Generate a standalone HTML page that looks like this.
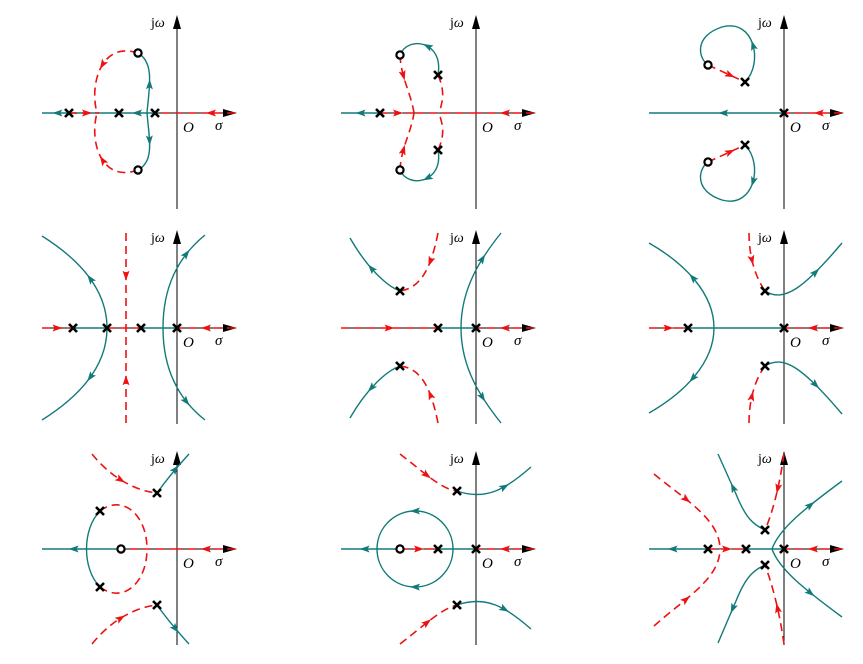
<!DOCTYPE html>
<html><head><meta charset="utf-8"><style>
html,body{margin:0;padding:0;background:#fff;}
svg{display:block;}
text{font-family:"Liberation Serif",serif;}
</style></head><body>
<svg id="fig" width="863" height="664" viewBox="0 0 863 664" xmlns="http://www.w3.org/2000/svg"></svg>
<script>
// panel origins (axis crossing) in page pixels
const panelOrigins = [[177,113],[476,113],[784,113],[177,328],[476,328],[784,328],[177,549],[476,549],[784,549]];
// poles per panel (local dx,dy)
const panelPoles = [
 [[-108,0],[-58,0],[-22,0]],
 [[-96,0],[-38,-38],[-38,37]],
 [[0,0],[-39,-31],[-39,32]],
 [[-104,0],[-70,0],[-36,0],[0,0]],
 [[-76,-37],[-76,38],[-38,0],[0,0]],
 [[-96,0],[-19,-37],[-19,38],[0,0]],
 [[-77,-38],[-77,38],[-20,-56],[-20,56]],
 [[-38,0],[0,0],[-19,-58],[-19,56]],
 [[-76,0],[-38,0],[0,0],[-19,-19],[-19,16]]
];
// zeros per panel
const panelZeros = [
 [[-39,-60],[-39,57]],
 [[-76,-58],[-76,57]],
 [[-76,-48],[-76,49]],
 [],[],[],
 [[-56,0]],
 [[-76,0]],
 []
];
// locus branches: [color t=teal r=red, path, arrow fraction]
const panelBranches = [
 [['r','M58,0 L-22,0',0.3],['t','M-22,0 L-58,0',0.5],['t','M-58,0 L-135,0',0.8],['r','M-108,0 L-78,0',0.6],
  ['t','M-30,0 C-28,-25 -22,-50 -39,-60',0.45],['t','M-30,0 C-28,25 -22,48 -39,57',0.45],
  ['r','M-39,-60 C-75,-72 -88,-30 -80,0',0.45],['r','M-39,57 C-75,70 -88,30 -80,0',0.45]],
 [['r','M58,0 L0,0',0.5],['r','M-96,0 L-60,0',0.5],['t','M-96,0 L-135,0',0.5],['r','M0,0 L-60,0',0],
  ['t','M-38,-38 C-32,-72 -68,-78 -76,-58',0.5],['t','M-38,37 C-32,70 -68,76 -76,57',0.5],
  ['r','M-76,-58 C-75,-35 -65,-20 -62,0',0.35],['r','M-76,57 C-75,35 -65,20 -62,0',0.35],
  ['r','M-38,-38 C-30,-20 -34,-10 -37,0',0],['r','M-38,37 C-30,20 -34,10 -37,0',0]],
 [['r','M58,0 L0,0',0.4],['t','M0,0 L-135,0',0.45],
  ['t','M-39,-31 C-20,-50 -30,-95 -62,-86 C-90,-77 -86,-55 -76,-48',0.3],
  ['t','M-39,32 C-20,51 -30,96 -62,87 C-90,78 -86,56 -76,49',0.3],
  ['r','M-76,-48 L-39,-31',0.6],['r','M-76,49 L-39,32',0.6]],
 [['r','M58,0 L0,0',0.5],['r','M-135,0 L-104,0',0.5],['t','M-104,0 L-70,0',0],['r','M-70,0 L-36,0',0],['t','M-36,0 L0,0',0],
  ['r','M-51,-95 L-51,0',0.45],['r','M-51,95 L-51,0',0.45],
  ['t','M-70,0 C-70,-40 -100,-70 -135,-92',0.45],['t','M-70,0 C-70,40 -100,70 -135,92',0.45],
  ['t','M-14,0 C-14,-40 0,-70 28,-93',0.75],['t','M-14,0 C-14,40 0,70 28,92',0.75]],
 [['r','M58,0 L0,0',0.5],['r','M-135,0 L-38,0',0.5],['t','M-38,0 L0,0',0],
  ['r','M-38,-95 C-45,-60 -55,-40 -76,-37',0.4],['r','M-38,95 C-45,60 -55,40 -76,38',0.4],
  ['t','M-76,-37 C-90,-42 -110,-62 -126,-90',0.5],['t','M-76,38 C-90,43 -110,62 -126,90',0.5],
  ['t','M-15,0 C-15,-40 5,-70 25,-95',0.7],['t','M-15,0 C-15,40 5,70 25,95',0.7]],
 [['r','M58,0 L0,0',0.5],['r','M-135,0 L-96,0',0.5],['t','M-96,0 L0,0',0],
  ['t','M-70,0 C-70,-35 -100,-65 -135,-85',0.5],['t','M-70,0 C-70,35 -100,65 -135,85',0.5],
  ['t','M-19,-37 C0,-25 20,-40 58,-85',0.6],['t','M-19,38 C0,26 20,41 58,86',0.6],
  ['r','M-35,-95 C-35,-70 -28,-50 -19,-37',0.45],['r','M-35,95 C-35,70 -28,50 -19,38',0.45]],
 [['r','M58,0 L0,0',0.5],['r','M0,0 L-56,0',0],['t','M-56,0 L-135,0',0.6],
  ['t','M-77,-38 C-95,-20 -95,20 -77,38',0],
  ['t','M-20,-56 C-10,-70 0,-82 12,-95',0.6],['t','M-20,56 C-10,70 0,82 12,95',0.6],
  ['r','M-85,-95 C-65,-70 -40,-58 -20,-56',0.5],['r','M-85,95 C-65,70 -40,58 -20,56',0.5],
  ['r','M-77,-38 C-55,-55 -30,-35 -30,0',0],['r','M-77,38 C-55,55 -30,35 -30,0',0]],
 [['r','M58,0 L0,0',0.5],['t','M-38,0 L0,0',0],['r','M-76,0 L-38,0',0.5],['t','M-76,0 L-135,0',0.6],
  ['t','M-23,0 A38,38 0 0 0 -99,0',0.5],['t','M-23,0 A38,38 0 0 1 -99,0',0.5],
  ['t','M-19,-58 C10,-48 30,-60 55,-82',0.6],['t','M-19,56 C10,46 30,58 55,80',0.6],
  ['r','M-76,-95 C-50,-75 -35,-60 -19,-58',0.5],['r','M-76,95 C-50,75 -35,60 -19,56',0.5]],
 [['r','M58,0 L0,0',0.5],['t','M-38,0 L0,0',0],['r','M-76,0 L-38,0',0.5],['t','M-76,0 L-135,0',0.6],
  ['t','M-19,-19 C-30,-24 -38,-30 -48,-55 L-66,-95',0.6],['t','M-19,16 C-30,21 -38,27 -48,52 L-66,94',0.6],
  ['t','M-12,0 C-5,-20 20,-40 58,-68',0.6],['t','M-12,0 C-5,20 20,40 58,68',0.6],
  ['r','M-130,-75 C-100,-50 -64,-30 -64,0',0.4],['r','M-130,77 C-100,50 -64,30 -64,0',0.4],
  ['r','M0,-95 C-5,-60 -12,-35 -19,-19',0.45],['r','M0,95 C-5,60 -12,35 -19,16',0.45]]
];
const NS='http://www.w3.org/2000/svg';
const svg=document.getElementById('fig');
const TEAL='#137a7a', RED='#ee1111';
function mk(tag,attrs,parent){const e=document.createElementNS(NS,tag);for(const k in attrs)e.setAttribute(k,attrs[k]);parent.appendChild(e);return e;}
panelOrigins.forEach((o,i)=>{
  const g=mk('g',{transform:`translate(${o[0]},${o[1]})`},svg);
  
  
  const ax=mk('g',{},g);
  
  
  mk('line',{x1:0,y1:96,x2:0,y2:-88,stroke:'#000','stroke-width':1},ax);
  mk('path',{d:'M0,-98 L-4,-84 L4,-84 Z',fill:'#000'},ax);
  mk('line',{x1:-135,y1:0,x2:50,y2:0,stroke:'#000','stroke-width':1},ax);
  mk('path',{d:'M60,0 L46,-4 L46,4 Z',fill:'#000'},ax);
  const lb=mk('text',{x:-26,y:-86,'font-size':14,fill:'#000'},g);
  lb.innerHTML='j<tspan font-style="italic">ω</tspan>';
  
  
  const lo=mk('text',{x:6,y:19,'font-size':15,'font-style':'italic',fill:'#000'},g);lo.textContent='O';
  
  
  const ls=mk('text',{x:38,y:17,'font-size':15,'font-style':'italic',fill:'#000'},g);ls.textContent='σ';
  
  
  panelBranches[i].forEach(b=>{
    const col=b[0]==='t'?TEAL:RED;
    const p=mk('path',{d:b[1],fill:'none',stroke:col,'stroke-width':b[0]==='t'?1.4:1.6},g);
    if(b[0]==='r')p.setAttribute('stroke-dasharray','8,5');
    
    
    if(b[2]>0){
      const L=p.getTotalLength();const f=b[2];
      const a=p.getPointAtLength(L*f),c=p.getPointAtLength(Math.min(L,L*f+1));
      const ang=Math.atan2(c.y-a.y,c.x-a.x)*180/Math.PI;
      const ar=mk('path',{d:'M5,0 L-5,-3.5 L-3,0 L-5,3.5 Z',fill:col,transform:`translate(${a.x},${a.y}) rotate(${ang})`},g);
      
      
    }
  });
  panelPoles[i].forEach(q=>{
    const m=mk('path',{d:`M${q[0]-4},${q[1]-4} L${q[0]+4},${q[1]+4} M${q[0]+4},${q[1]-4} L${q[0]-4},${q[1]+4}`,stroke:'#000','stroke-width':2.6},g);
    
    
  });
  panelZeros[i].forEach(q=>{
    const m=mk('circle',{cx:q[0],cy:q[1],r:3.6,fill:'#fff',stroke:'#000','stroke-width':2.2},g);
    
    
  });
});
</script>
</body></html>
